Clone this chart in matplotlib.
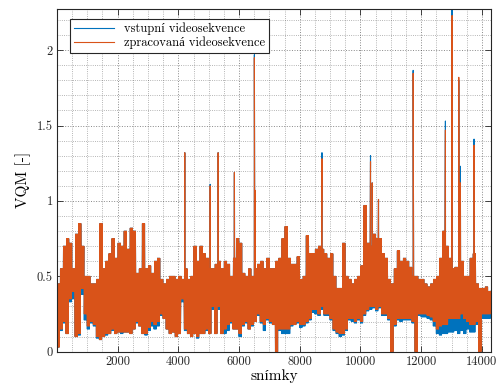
import matplotlib
matplotlib.use('Agg')
import matplotlib.pyplot as plt
from matplotlib.ticker import MultipleLocator
import numpy as np

plt.rcParams['font.family'] = ['cmr10', 'Liberation Serif']
plt.rcParams['mathtext.fontset'] = 'cm'
plt.rcParams['axes.unicode_minus'] = False

# frames are binned by 100, each bin gives a low and a high value
bin_start = np.arange(0, 14300, 100)

orig_hi = [.45, .55, .70, .75, .72, .55, .78, .85, .70, .50,
           .50, .45, .45, .48, .85, .55, .60, .65, .75, .62,
           .72, .70, .80, .68, .82, .80, .52, .55, .85, .55,
           .57, .52, .60, .62, .48, .45, .48, .50, .50, .48,
           .50, .48, .55, .48, .50, .70, .60, .70, .65, .62,
           .55, .55, .58, .60, .55, .60, .58, .50, .62, .75,
           .72, .52, .50, .55, .50, .55, .58, .60, .55, .62,
           .55, .55, .60, .62, .75, .83, .62, .58, .58, .63,
           .48, .50, .77, .65, .65, .68, .70, .68, .65, .62,
           .65, .50, .42, .42, .72, .50, .48, .45, .48, .50,
           .57, .97, .72, .70, .78, .75, .75, .65, .62, .48,
           .45, .55, .67, .60, .62, .60, .56, .50, .50, .48,
           .48, .45, .43, .45, .48, .50, .62, .80, .70, .62,
           .55, .56, .55, .60, .50, .50, .62, .65, .45, .42,
           .42, .43, .40]

proc_lo = [.03, .15, .20, .12, .35, .40, .10, .12, .42, .25,
           .17, .20, .18, .10, .08, .10, .12, .12, .15, .12,
           .13, .13, .13, .13, .12, .15, .20, .17, .12, .12,
           .16, .20, .18, .20, .25, .22, .15, .12, .13, .10,
           .12, .35, .15, .12, .10, .12, .10, .12, .12, .15,
           .12, .30, .12, .30, .12, .15, .18, .20, .15, .15,
           .12, .18, .20, .15, .18, .20, .25, .20, .18, .22,
           .20, .18, .00, .15, .15, .15, .15, .18, .18, .20,
           .18, .18, .20, .22, .28, .28, .25, .30, .25, .25,
           .22, .15, .13, .12, .12, .15, .22, .22, .20, .22,
           .20, .25, .28, .30, .30, .28, .30, .25, .25, .22,
           .00, .18, .22, .22, .22, .22, .22, .20, .00, .25,
           .25, .25, .24, .23, .20, .15, .17, .18, .18, .22,
           .22, .22, .22, .25, .22, .20, .18, .18, .20, .00,
           .25, .25, .25]

orig_lo = [.03, .14, .19, .12, .33, .35, .10, .11, .38, .21,
           .15, .19, .17, .09, .08, .10, .11, .12, .14, .12,
           .13, .12, .13, .13, .12, .15, .19, .17, .12, .11,
           .14, .17, .15, .17, .24, .22, .15, .12, .13, .10,
           .12, .33, .14, .12, .10, .12, .09, .12, .12, .14,
           .12, .28, .12, .28, .12, .12, .14, .19, .15, .15,
           .10, .17, .19, .15, .17, .20, .24, .19, .14, .21,
           .19, .18, .00, .14, .12, .12, .12, .17, .18, .19,
           .16, .17, .19, .21, .26, .25, .24, .28, .24, .24,
           .21, .14, .12, .10, .11, .14, .21, .20, .19, .21,
           .19, .24, .27, .28, .29, .27, .29, .24, .24, .21,
           .00, .17, .21, .20, .21, .21, .21, .19, .00, .24,
           .23, .23, .22, .21, .17, .12, .11, .12, .12, .13,
           .13, .14, .12, .14, .12, .15, .13, .13, .18, .00,
           .22, .22, .22]

proc_hi = orig_hi

# isolated peaks
spike_frames = [4210, 5046, 5309, 5845, 6503, 6525, 8730, 10329, 10385,
                10592, 11734, 12797, 13016, 13237, 13290, 13740]
spike_orig = [1.32, 1.11, 1.32, 1.19, 1.97, 1.07, 1.32, 1.30, 1.12,
              1.01, 1.866, 1.53, 2.30, 1.80, 1.23, 1.41]
spike_proc = [1.32, 1.10, 1.32, 1.19, 1.95, 1.07, 1.28, 1.26, 1.12,
              1.01, 1.846, 1.47, 2.23, 1.82, 1.12, 1.37]

n_swing = 3  # lo/hi swings drawn inside each 100-frame bin


def build(lo, hi, sp):
    step = 100 / (2 * n_swing)
    offs = np.arange(2 * n_swing) * step
    x = (bin_start[:, None] + offs[None, :]).ravel()
    y = np.where(np.arange(2 * n_swing) % 2 == 0,
                 np.asarray(lo)[:, None], np.asarray(hi)[:, None]).ravel()
    x = np.concatenate([x, spike_frames])
    y = np.concatenate([y, sp])
    order = np.argsort(x, kind='stable')
    return x[order] + 1, y[order]


xo, yo = build(orig_lo, orig_hi, spike_orig)
xp, yp = build(proc_lo, proc_hi, spike_proc)

fig = plt.figure(figsize=(4.99, 3.87), dpi=100)
ax = fig.add_axes([0.1142, 0.0912, 0.8698, 0.8863])

ax.plot(xo, yo, color='#0072BD', linewidth=0.8, label='vstupní videosekvence')
ax.plot(xp, yp, color='#D95319', linewidth=0.8, label='zpracovaná videosekvence')

ax.set_xlim(1, 14300)
ax.set_ylim(0, 2.275)
ax.set_xticks([2000, 4000, 6000, 8000, 10000, 12000, 14000])
ax.set_yticks([0, 0.5, 1, 1.5, 2])
ax.set_yticklabels(['0', '0.5', '1', '1.5', '2'])
ax.xaxis.set_minor_locator(MultipleLocator(500))
ax.yaxis.set_minor_locator(MultipleLocator(0.1))
ax.tick_params(which='major', direction='in', top=True, right=True,
               length=4, width=0.6, colors='#262626', labelsize=9, pad=3)
ax.tick_params(which='minor', length=0)
ax.grid(True, which='major', linestyle=':', color='#262626', linewidth=0.7, alpha=0.55)
ax.grid(True, which='minor', linestyle=':', color='#262626', linewidth=0.6, alpha=0.45)
for s in ax.spines.values():
    s.set_color('#262626')
    s.set_linewidth(0.8)

ax.set_xlabel('snímky', fontsize=11, labelpad=1)
ax.set_ylabel('VQM [-]', fontsize=11, labelpad=4)

leg = ax.legend(loc='upper left', bbox_to_anchor=(0.03, 0.97), fontsize=9,
                fancybox=False, framealpha=1, edgecolor='#262626',
                handlelength=3.2, borderpad=0.3, labelspacing=0.1, borderaxespad=0)
leg.get_frame().set_linewidth(0.8)

fig.savefig('out.png', dpi=100)
